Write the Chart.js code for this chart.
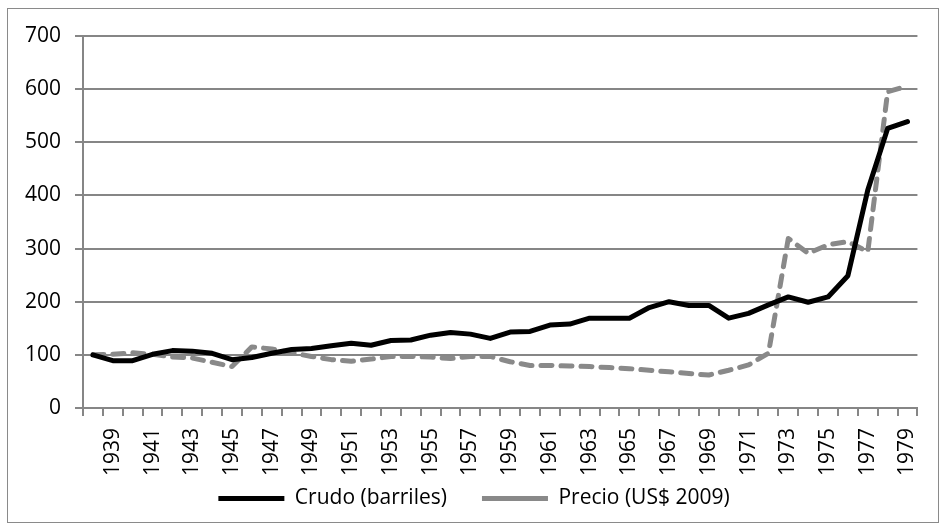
<!DOCTYPE html>
<html><head><meta charset="utf-8">
<script src="https://cdn.jsdelivr.net/npm/chart.js@4.4.1/dist/chart.umd.min.js"></script>
<style>html,body{margin:0;padding:0;background:#fff;}#wrap{width:945px;height:530px;position:relative;}</style>
</head><body><div id="wrap"><canvas id="c" width="945" height="530"></canvas></div>
<script>
const years = ['1938','1939','1940','1941','1942','1943','1944','1945','1946','1947','1948','1949','1950','1951','1952','1953','1954','1955','1956','1957','1958','1959','1960','1961','1962','1963','1964','1965','1966','1967','1968','1969','1970','1971','1972','1973','1974','1975','1976','1977','1978','1979'];
const crudo = [100,89,89,101,108,107,103,91,95,103,110,112,117,122,118,127,128,137,142,139,131,143,144,156,158,169,169,169,189,200,193,193,169,178,194,209,199,209,249,410,526,539];
const precio = [100,101,104,101,96,94,86,78,115,111,104,97,91,88,92,97,97,96,93,97,97,87,80,80,79,78,76,74,71,68,65,62,71,81,103,319,291,307,313,294,595,606];
const seriesNames = ['Crudo (barriles)', 'Precio (US$ 2009)'];
const yMin = 0, yMax = 700, yStep = 100;

const FONT = "'Open Sans', sans-serif";
const FS = 21;
const GRID = '#868686';

const frame = {
  id: 'frame',
  beforeDraw(chart) {
    const ctx = chart.ctx;
    ctx.save();
    ctx.fillStyle = '#fff';
    ctx.fillRect(0, 0, chart.width, chart.height);
    ctx.strokeStyle = '#8a8a8a';
    ctx.lineWidth = 1;
    ctx.strokeRect(7.5, 8.5, 931, 514);
    ctx.restore();
  },
  afterLayout(chart) {
    const lg = chart.legend;
    if (lg) { lg.top -= 22; lg.bottom -= 22; lg.left += 14; lg.right += 14; }
  }
};

new Chart(document.getElementById('c'), {
  type: 'line',
  data: {
    labels: years,
    datasets: [
      { label: seriesNames[0], data: crudo, borderColor: '#000', backgroundColor: '#000', borderWidth: 5,
        pointRadius: 0, pointStyle: 'line', tension: 0, borderJoinStyle: 'round', borderCapStyle: 'round' },
      { label: seriesNames[1], data: precio, borderColor: '#898989', backgroundColor: '#898989', borderWidth: 5,
        borderDash: [11, 9], pointRadius: 0, pointStyle: 'line', tension: 0, borderJoinStyle: 'round', borderCapStyle: 'round' }
    ]
  },
  options: {
    responsive: false,
    animation: false,
    devicePixelRatio: 1,
    layout: { padding: { left: 0, right: 25, top: 36, bottom: -11 } },
    plugins: {
      tooltip: { enabled: false },
      legend: {
        position: 'bottom',
        labels: {
          usePointStyle: true, pointStyle: 'line', pointStyleWidth: 66,
          padding: 35, color: '#000', font: { family: FONT, size: FS }
        }
      }
    },
    scales: {
      x: {
        offset: true,
        afterFit(s) { s.height = 67; },
        grid: { offset: true, drawOnChartArea: false, drawTicks: true, tickLength: 8, color: GRID, lineWidth: 2 },
        border: { color: GRID, width: 2 },
        ticks: {
          autoSkip: false, minRotation: 90, maxRotation: 90, padding: 12, color: '#000',
          font: { family: FONT, size: FS },
          callback: function (v, i) { return (i % 2 === 1) ? years[i] : ''; }
        }
      },
      y: {
        min: yMin, max: yMax,
        afterFit(s) { s.width = 83; },
        grid: { color: GRID, lineWidth: 2, tickLength: 8 },
        border: { color: GRID, width: 2 },
        ticks: { stepSize: yStep, padding: 14, color: '#000', font: { family: FONT, size: FS } }
      }
    }
  },
  plugins: [frame]
});
</script></body></html>
